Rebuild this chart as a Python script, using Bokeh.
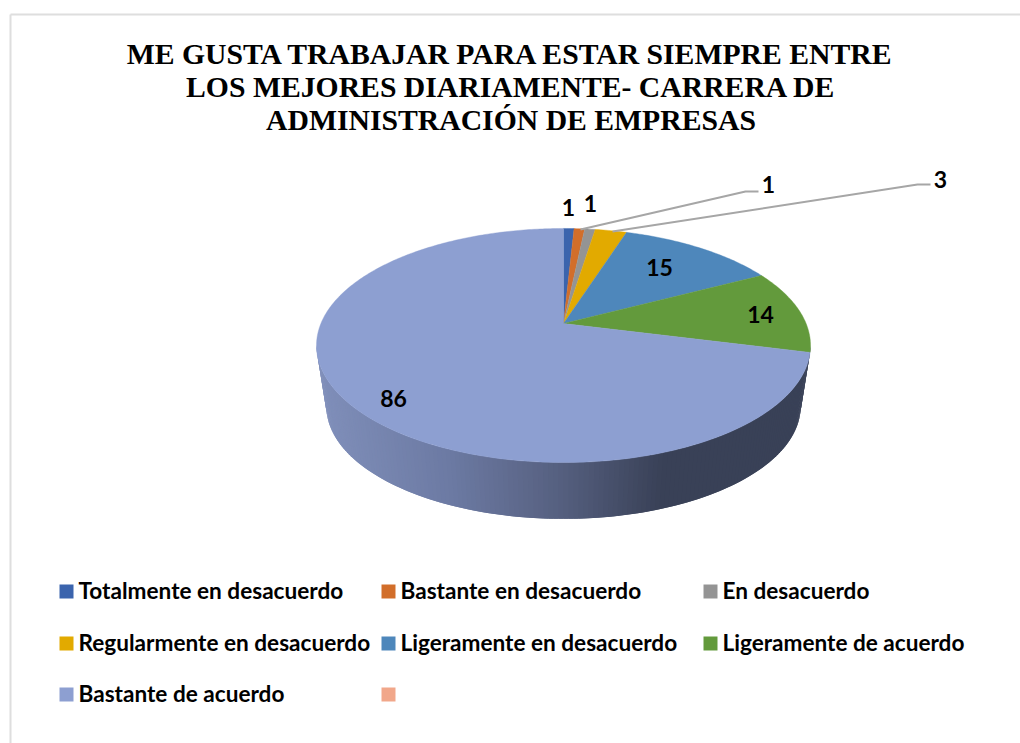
import math
from bokeh.plotting import figure
from bokeh.models import Range1d
from bokeh.core.properties import value
from bokeh.embed import file_html
from bokeh.resources import INLINE

title_lines = ["ME GUSTA TRABAJAR PARA ESTAR SIEMPRE ENTRE",
               "LOS MEJORES DIARIAMENTE- CARRERA DE",
               "ADMINISTRACIÓN DE EMPRESAS"]
categories = ["Totalmente en desacuerdo", "Bastante en desacuerdo", "En desacuerdo",
              "Regularmente en desacuerdo", "Ligeramente en desacuerdo",
              "Ligeramente de acuerdo", "Bastante de acuerdo", ""]
values = [1, 1, 1, 3, 15, 14, 86, 0]
colors = ["#3B64AD", "#D26E2A", "#949494", "#E2AA00", "#4E87BB", "#639A3C", "#8D9FD1", "#F1A78A"]

W, H = 1020, 743
CX, CY = 563, 323      # apex of the pie as seen in perspective
K, A, B = 0.188, 112.9, 242.6
RIM_CY = 345
DROP, SHRINK = 61, 0.96

p = figure(width=W, height=H, output_backend="svg", toolbar_location=None,
           x_range=Range1d(0, W), y_range=Range1d(H, 0),
           x_axis_location=None, y_axis_location=None, min_border=0,
           outline_line_color=None, background_fill_color="white", border_fill_color="white")
p.xgrid.visible = False
p.ygrid.visible = False

def proj(theta, r=1.0):
    x, y = r * math.sin(theta), r * math.cos(theta)
    w = 1 + K * y
    return CX + B * x / w, CY - A * y / w

# frame of the picture
p.segment([10, 10], [14, 14], [10, 1020], [743, 14], line_color="#DEDEDE", line_width=2)

# side wall: strips between rim and lower rim, shaded by horizontal position
def shade(x):
    stops = [(316, (128, 143, 186)), (450, (108, 122, 163)), (560, (86, 96, 128)), (665, (57, 65, 87)), (810, (57, 65, 87))]
    for (x0, c0), (x1, c1) in zip(stops, stops[1:]):
        if x <= x1:
            f = max(0, (x - x0) / (x1 - x0))
            return "#%02x%02x%02x" % tuple(round(a + (b - a) * f) for a, b in zip(c0, c1))
    return "#394157"

t0, t1 = math.acos(-K), 2 * math.pi - math.acos(-K)
N = 160
xs, ys, cs = [], [], []
for i in range(N):
    # painted from right to left; each strip overlaps the next one so no seams show
    a, b = t0 + (t1 - t0) * i / N, min(t1, t0 + (t1 - t0) * (i + 2) / N)
    (xa, ya), (xb, yb) = proj(a), proj(b)
    qa = (CX + (xa - CX) * SHRINK, RIM_CY + DROP + (ya - RIM_CY) * SHRINK)
    qb = (CX + (xb - CX) * SHRINK, RIM_CY + DROP + (yb - RIM_CY) * SHRINK)
    xs.append([xa, xb, qb[0], qa[0]])
    ys.append([ya, yb, qb[1], qa[1]])
    cs.append(shade(xa))
p.patches(xs, ys, fill_color=cs, line_color=None)

# top face
total = sum(values)
cum = 0
for v, c in zip(values, colors):
    if v == 0:
        continue
    a0, a1 = cum / total * 2 * math.pi, (cum + v) / total * 2 * math.pi
    cum += v
    n = max(2, int(v * 4))
    pts = [proj(a0 + (a1 - a0) * j / n) for j in range(n + 1)]
    p.patch([CX] + [q[0] for q in pts], [CY] + [q[1] for q in pts],
            fill_color=c, line_color=c, line_width=0.4)

# leader lines
leader_color = "#A6A6A6"
p.line([580, 745, 758], [229, 191, 191], line_color=leader_color, line_width=2)
p.line([612, 917, 930], [231, 184, 184], line_color=leader_color, line_width=2)

# data labels
labels = ["1", "1", "1", "3", "15", "14", "86"]
label_x = [568, 590, 768, 940, 659, 760, 393]
label_y = [207, 203, 184, 179, 267, 314, 398]
p.text(label_x, label_y, text=labels, text_font=value("Lato"), text_font_style="bold",
       text_font_size="23px", text_align="center", text_baseline="middle", text_color="#000000")

# title
p.text([510.5] * 3, [53, 86, 119], text=title_lines, text_font=value("Liberation Serif"),
       text_font_style="bold", text_font_size="29.7px", text_align="center",
       text_baseline="middle", text_color="#000000")

# legend
col_x = [59, 381, 703]
row_y = [591, 643, 694]
lx = [col_x[i % 3] for i in range(len(categories))]
ly = [row_y[i // 3] for i in range(len(categories))]
p.quad(left=lx, right=[x + 14 for x in lx], top=[y - 7 for y in ly], bottom=[y + 7 for y in ly],
       fill_color=colors, line_color=None)
p.text([x + 19 for x in lx], [y - 1 for y in ly], text=categories, text_font=value("Lato"),
       text_font_style="bold", text_font_size="22.6px", text_align="left",
       text_baseline="middle", text_color="#000000")

open("out.html", "w").write(file_html(p, INLINE))
